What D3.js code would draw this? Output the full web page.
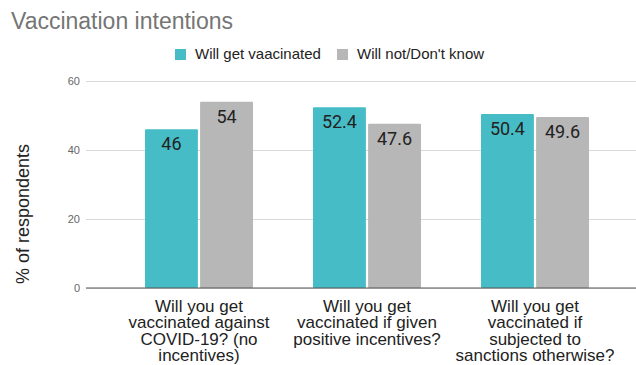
<!DOCTYPE html>
<html>
<head>
<meta charset="utf-8">
<script src="https://cdn.jsdelivr.net/npm/d3@7"></script>
<style>
  body { margin: 0; background: #fff; }
  text { font-family: Arial, "Liberation Sans", sans-serif; }
</style>
</head>
<body>
<script>
const categories = [
  ['Will you get', 'vaccinated against', 'COVID-19? (no', 'incentives)'],
  ['Will you get', 'vaccinated if given', 'positive incentives?'],
  ['Will you get', 'vaccinated if', 'subjected to', 'sanctions otherwise?']
]
const seriesNames = ['Will get vaacinated', "Will not/Don't know"]
const willGet = [46, 52.4, 50.4]
const willNot = [54, 47.6, 49.6]
const yTicks = [0, 20, 40, 60]
const colors = ['#46bdc6', '#b7b7b7']

const width = 636
const height = 365

const svg = d3.select('body').append('svg')
  .attr('width', width)
  .attr('height', height)

const x0 = d3.scaleBand()
  .domain(d3.range(categories.length))
  .range([85, 649])
  .paddingInner(0.357)
  .paddingOuter(0.357)

const x1 = d3.scaleBand()
  .domain(d3.range(seriesNames.length))
  .range([0, x0.bandwidth()])
  .paddingInner(0.04)

const y = d3.scaleLinear()
  .domain([0, 60])
  .range([288, 81])

// title
svg.append('text')
  .attr('x', 11)
  .attr('y', 29)
  .style('font-size', '23px')
  .style('fill', '#757575')
  .text('Vaccination intentions')

// gridlines + tick labels
const yAxis = svg.append('g')
  .attr('transform', 'translate(86,0)')
  .call(d3.axisLeft(y).tickValues(yTicks).tickSize(-(width - 86)).tickFormat(d3.format('d')))
yAxis.select('.domain').remove()
yAxis.selectAll('.tick line').attr('stroke', '#d9d9d9')
yAxis.selectAll('.tick text')
  .attr('x', -6)
  .style('font-size', '11px')
  .style('fill', '#666')
  .style('font-family', 'Arial, "Liberation Sans", sans-serif')

// y label
svg.append('text')
  .attr('transform', 'translate(29,214) rotate(-90)')
  .attr('text-anchor', 'middle')
  .style('font-size', '18px')
  .style('fill', '#222')
  .text('% of respondents')

// bars
const rows = categories.map((c, i) => [willGet[i], willNot[i]])
const groups = svg.selectAll('.group')
  .data(rows)
  .enter().append('g')
  .attr('class', 'group')
  .attr('transform', (d, i) => `translate(${x0(i)},0)`)

groups.selectAll('rect')
  .data(d => d)
  .enter().append('rect')
  .attr('x', (d, j) => x1(j))
  .attr('y', d => y(d))
  .attr('width', x1.bandwidth())
  .attr('height', d => y(0) - y(d))
  .attr('rx', 1)
  .style('fill', (d, j) => colors[j])

groups.selectAll('.val')
  .data(d => d)
  .enter().append('text')
  .attr('class', 'val')
  .attr('x', (d, j) => x1(j) + x1.bandwidth() / 2)
  .attr('y', d => y(d) + 21)
  .attr('text-anchor', 'middle')
  .style('font-family', 'Roboto, sans-serif')
  .style('font-size', '18px')
  .style('fill', '#222')
  .text(d => d)

// zero line
svg.append('line')
  .attr('x1', 86).attr('x2', width)
  .attr('y1', y(0)).attr('y2', y(0))
  .attr('stroke', '#555')
  .attr('stroke-width', 1.2)

// category labels
categories.forEach((lines, i) => {
  const t = svg.append('text')
    .attr('text-anchor', 'middle')
    .style('font-size', '17px')
    .style('fill', '#222')
  lines.forEach((l, k) => {
    t.append('tspan')
      .attr('x', x0(i) + x0.bandwidth() / 2)
      .attr('y', 312 + k * 16.3)
      .text(l)
  })
})

// legend
const legendX = [175, 337]
seriesNames.forEach((name, i) => {
  svg.append('rect')
    .attr('x', legendX[i]).attr('y', 49)
    .attr('width', 11).attr('height', 11)
    .style('fill', colors[i])
  svg.append('text')
    .attr('x', legendX[i] + 20)
    .attr('y', 59)
    .style('font-size', '15px')
    .style('fill', '#222')
    .text(name)
})
</script>
</body>
</html>
